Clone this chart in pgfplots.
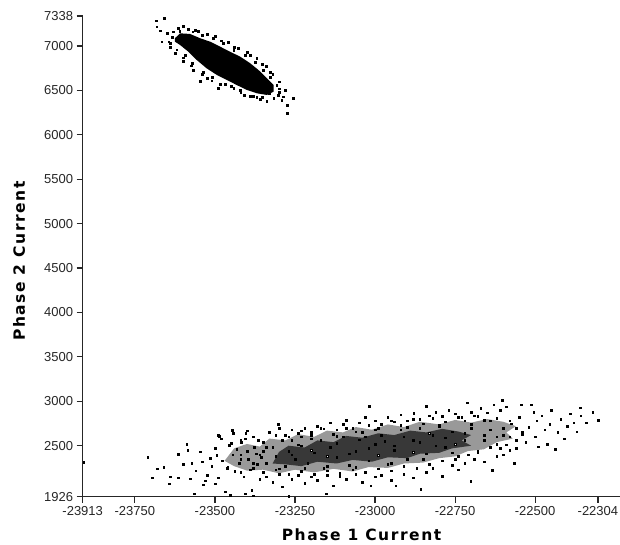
\documentclass[border=0pt]{standalone}
\usepackage{fontspec}
\usepackage{pgfplots}
\pgfplotsset{compat=1.18}
\newfontfamily\tickfont{Liberation Sans}
\newfontfamily\labfont{DejaVu Sans}[LetterSpace=10]

\begin{document}
\begin{tikzpicture}
\begin{axis}[
  name=ax,
  scale only axis,
  width=537.3pt, height=480.7pt,
  xmin=-23913, xmax=-22235,
  ymin=1926, ymax=7338,
  axis x line=bottom, axis y line=left,
  axis line style={-, line width=1.5pt, draw=black!85},
  scaled ticks=false,
  xtick={-23913,-23750,-23500,-23250,-23000,-22750,-22500,-22304},
  xticklabels={-23913,-23750,-23500,-23250,-23000,-22750,-22500,-22304},
  ytick={1926,2500,3000,3500,4000,4500,5000,5500,6000,6500,7000,7338},
  yticklabels={1926,2500,3000,3500,4000,4500,5000,5500,6000,6500,7000,7338},
  tick align=outside,
  major tick length=6pt,
  tick style={line width=1.2pt, draw=black!85},
  ticklabel style={font=\tickfont\fontsize{13}{15}\selectfont, text=black!85},
  xlabel={Phase 1 Current},
  ylabel={Phase 2 Current},
  label style={font=\labfont\bfseries\fontsize{15.5}{18}\selectfont},
  xlabel style={at={(axis description cs:0.519,-0.0915)}, anchor=base},
  ylabel style={at={(axis description cs:-0.1074,0.49)}, anchor=base},
  clip=false,
]
% bottom cluster: medium-density band
\addplot[draw=none, fill=black!40] coordinates {
  (-23470,2330) (-23440,2470) (-23400,2520) (-23360,2490) (-23330,2580)
  (-23280,2560) (-23240,2630) (-23190,2600) (-23150,2670) (-23100,2650)
  (-23060,2710) (-23010,2680) (-22960,2740) (-22910,2710) (-22860,2770)
  (-22800,2740) (-22750,2790) (-22700,2760) (-22650,2800) (-22600,2770)
  (-22560,2720) (-22590,2650) (-22570,2580) (-22620,2540) (-22660,2460)
  (-22710,2440) (-22750,2380) (-22800,2360) (-22850,2310) (-22910,2300)
  (-22960,2250) (-23020,2260) (-23070,2210) (-23130,2240) (-23190,2200)
  (-23250,2230) (-23300,2190) (-23350,2230) (-23400,2220) (-23440,2270)
  (-23470,2330)
};
% bottom cluster: dense core
\addplot[draw=none, fill=black!78] coordinates {
  (-23320,2300) (-23300,2430) (-23270,2500) (-23220,2480) (-23180,2560)
  (-23130,2540) (-23090,2610) (-23040,2590) (-22990,2640) (-22940,2620)
  (-22890,2670) (-22840,2650) (-22790,2690) (-22740,2660) (-22700,2620)
  (-22730,2560) (-22700,2500) (-22760,2470) (-22800,2420) (-22860,2410)
  (-22900,2360) (-22960,2370) (-23010,2320) (-23070,2340) (-23120,2300)
  (-23180,2320) (-23230,2270) (-23280,2290) (-23320,2300)
};
% top cluster: solid core
\addplot[draw=none, fill=black] coordinates {
  (-23625,7087) (-23609,7143) (-23578,7136) (-23546,7087) (-23515,7049)
  (-23484,6993) (-23453,6936) (-23421,6880) (-23390,6806) (-23364,6730)
  (-23338,6637) (-23317,6561) (-23317,6486) (-23338,6449) (-23369,6468)
  (-23400,6505) (-23432,6561) (-23463,6618) (-23494,6674) (-23526,6749)
  (-23557,6843) (-23583,6936) (-23609,7012) (-23625,7049) (-23625,7087)
};
% white speckle inside the dense core
\addplot[only marks, mark=square*, mark size=0.8pt, mark options={draw=none, fill=white}] coordinates {
  (-23200,2450) (-23150,2380) (-23120,2530) (-23080,2410) (-23050,2570)
  (-23020,2470) (-22990,2390) (-22970,2550) (-22940,2500) (-22910,2600)
  (-22880,2430) (-22860,2540) (-22830,2640) (-22810,2500) (-22780,2590)
  (-22750,2520) (-22720,2640) (-23230,2500) (-23260,2400) (-23030,2600)
};
% top cluster halo
\addplot[only marks, mark=square*, mark size=0.8pt, mark options={draw=none, fill=black}] coordinates {
  (-23684,7285) (-23659,7312) (-23682,7218) (-23671,7173) (-23650,7143)
  (-23666,7049) (-23645,7049) (-23630,7161) (-23599,7226) (-23562,7181)
  (-23525,7136) (-23505,7087) (-23474,7031) (-23442,6955) (-23406,6899)
  (-23375,6820) (-23349,6730) (-23328,6651) (-23307,6561) (-23286,6430)
  (-23255,6412) (-23275,6336) (-23274,6243) (-23317,6415) (-23338,6381)
  (-23359,6404) (-23380,6437) (-23409,6449) (-23442,6528) (-23484,6573)
  (-23525,6640) (-23567,6730) (-23599,6832) (-23625,6922) (-23640,6989)
  (-23546,6606) (-23489,6524) (-23291,6387) (-23369,6426) (-23299,6483)
  (-23349,6505) (-23584,7192) (-23553,7169) (-23500,7113) (-23459,7045)
  (-23428,6978) (-23390,6899) (-23353,6798) (-23328,6708) (-23615,7203)
  (-23634,7102) (-23593,6899) (-23571,6809) (-23537,6708) (-23509,6651)
  (-23468,6573) (-23421,6505) (-23390,6437) (-23353,6426) (-23303,6449)
  (-23281,6505) (-23610,7170) (-23570,7160) (-23540,7120) (-23480,7060)
  (-23440,6990) (-23400,6930) (-23370,6860) (-23340,6770) (-23320,6680)
  (-23300,6600) (-23300,6520) (-23330,6470) (-23420,6480) (-23450,6550)
  (-23510,6610) (-23540,6680) (-23575,6780) (-23600,6870) (-23620,6960)
  (-23640,7030)
};
% bottom cluster points
\addplot[only marks, mark=square*, mark size=0.8pt, mark options={draw=none, fill=black}] coordinates {
  (-23910,2317)
  (-23710,2373) (-23696,2142) (-23680,2240) (-23660,2255) (-23643,2073)
  (-23640,2150) (-23615,2407) (-23615,2142) (-23600,2290) (-23588,2519)
  (-23585,2450) (-23577,2129) (-23572,2302) (-23565,1961) (-23560,2220)
  (-23546,2433) (-23540,2320) (-23537,2062) (-23531,2106) (-23525,2170)
  (-23515,2358) (-23510,2270) (-23500,2470) (-23500,2073) (-23495,2390)
  (-23490,2620) (-23490,2140) (-23487,2605) (-23480,2580) (-23478,2330)
  (-23468,1982) (-23462,2250) (-23455,2508) (-23453,1945) (-23447,2677)
  (-23445,2400) (-23443,2643) (-23438,2210) (-23432,2460) (-23425,2300)
  (-23420,2400) (-23418,2540) (-23410,2150) (-23406,1960) (-23405,2580)
  (-23404,2643) (-23400,2670) (-23396,2350) (-23390,2230) (-23385,2001)
  (-23381,1937) (-23378,2480) (-23372,2410) (-23368,2290) (-23365,2560)
  (-23360,2120) (-23355,2370) (-23350,2440)
  (-23330,2650) (-23303,2745) (-23300,2700) (-23280,2620) (-23260,2680)
  (-23240,2640) (-23220,2700) (-23200,2650) (-23180,2720) (-23160,2690)
  (-23140,2760) (-23120,2680) (-23100,2740) (-23091,2785) (-23070,2700)
  (-23050,2760) (-23030,2820) (-23018,2947) (-23000,2780) (-22980,2740)
  (-22960,2820) (-22940,2770) (-22920,2850) (-22900,2780) (-22879,2868)
  (-22860,2800) (-22840,2947) (-22830,2840) (-22810,2880) (-22790,2830)
  (-22770,2900) (-22750,2860) (-22730,2820) (-22712,2985) (-22700,2880)
  (-22690,2840) (-22670,2920) (-22650,2870) (-22630,2960) (-22603,3015)
  (-22610,2900) (-22590,2940)
  (-23340,2150) (-23320,2090) (-23300,2180) (-23290,2040) (-23270,1930)
  (-23260,2120) (-23240,2170) (-23220,2080) (-23200,2150) (-23180,2110)
  (-23153,1961) (-23150,2170) (-23130,2050) (-23110,2160) (-23090,2120)
  (-23060,2180) (-23040,2090) (-23013,2050) (-23000,2150) (-22980,2170)
  (-22950,2110) (-22935,2050) (-22910,2180) (-22880,2140) (-22857,2013)
  (-22840,2200) (-22820,2250) (-22790,2160) (-22760,2280) (-22740,2230)
  (-22720,2300) (-22701,2102) (-22690,2350) (-22660,2320) (-22634,2227)
  (-22620,2380) (-22600,2400)
  (-22580,2600) (-22575,2750) (-22566,2306) (-22560,2470) (-22550,2820)
  (-22544,2960) (-22540,2660) (-22530,2540) (-22520,2710) (-22512,2960)
  (-22505,2880) (-22500,2600) (-22495,2780) (-22490,2490) (-22480,2840)
  (-22470,2680) (-22463,2518) (-22455,2740) (-22450,2900) (-22438,2462)
  (-22430,2650) (-22420,2800) (-22410,2580) (-22400,2720) (-22390,2860)
  (-22380,2760) (-22370,2660) (-22360,2930) (-22358,2838) (-22340,2760)
  (-22320,2880) (-22304,2785)
  (-23340,2300) (-23320,2480) (-23310,2380) (-23290,2560) (-23280,2270)
  (-23270,2440) (-23250,2350) (-23240,2510) (-23230,2600) (-23210,2300)
  (-23190,2420) (-23170,2560) (-23160,2250) (-23140,2480) (-23120,2370)
  (-23100,2600) (-23080,2280) (-23060,2440) (-23040,2650) (-23020,2330)
  (-23000,2520) (-22980,2620) (-22960,2290) (-22940,2450) (-22920,2680)
  (-22900,2350) (-22880,2560) (-22860,2700) (-22840,2410) (-22820,2620)
  (-22800,2730) (-22780,2480) (-22760,2660) (-22740,2380) (-22720,2560)
  (-22700,2740) (-22680,2440) (-22660,2620) (-22640,2780) (-22620,2520)
  (-22600,2700) (-22580,2450)
  (-23450,2530) (-23420,2560) (-23380,2600) (-23350,2540) (-23310,2620)
  (-23270,2600) (-23230,2670) (-23200,2620) (-23170,2700) (-23130,2630)
  (-23090,2700) (-23060,2660) (-23020,2730) (-22990,2700) (-22950,2780)
  (-22920,2730) (-22880,2800) (-22850,2750) (-22820,2810) (-22780,2770)
  (-22740,2820) (-22720,2780) (-22680,2830) (-22660,2790) (-22620,2810)
  (-22580,2780) (-22560,2700) (-22540,2630) (-22560,2560) (-22590,2510)
  (-23460,2260) (-23420,2200) (-23380,2250) (-23350,2200) (-23310,2230)
  (-23270,2180) (-23230,2210) (-23190,2180) (-23150,2220) (-23110,2190)
  (-23070,2230) (-23030,2200) (-22990,2240) (-22950,2220) (-22910,2270)
  (-22870,2250) (-22830,2290) (-22790,2330) (-22750,2350) (-22710,2400)
  (-22680,2420) (-22640,2480) (-22610,2470)
  (-23420,2350) (-23400,2440) (-23380,2300) (-23360,2400) (-23340,2480)
  (-23300,2240) (-23260,2560) (-23220,2250) (-23200,2580) (-23150,2270)
  (-23120,2610) (-23060,2260) (-23000,2680) (-22950,2300) (-22900,2710)
  (-22850,2350) (-22800,2720) (-22760,2420) (-22700,2700) (-22660,2560)
  (-22640,2680) (-22620,2600) (-22600,2620)
};
\end{axis}
\pgfresetboundingbox
\path[use as bounding box] ([shift={(-82.7pt,-47.3pt)}]ax.south west) rectangle ([shift={(537.3pt,496.7pt)}]ax.south west);
\end{tikzpicture}
\end{document}
